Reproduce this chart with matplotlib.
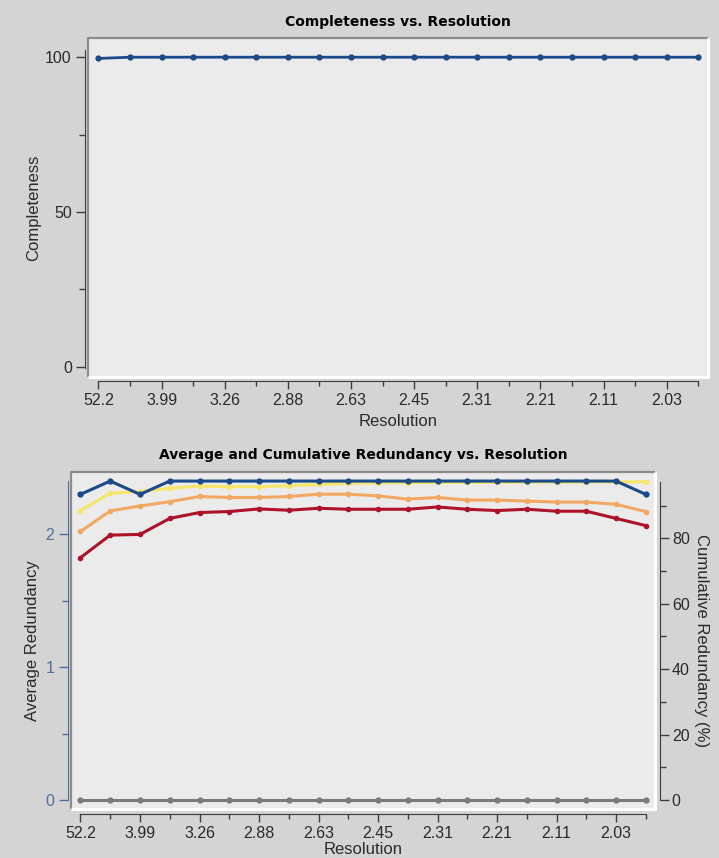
import matplotlib
matplotlib.use("Agg")
import matplotlib.pyplot as plt
from matplotlib.ticker import FixedLocator, NullFormatter

plt.rcParams["font.family"] = ["Liberation Sans", "DejaVu Sans"]

# resolution bin labels (every second bin is labelled)
res_labels = ["52.2", "3.99", "3.26", "2.88", "2.63", "2.45", "2.31", "2.21", "2.11", "2.03"]
n_bins = 20

completeness = [99.6] + [100.0] * 19

avg_redundancy = [2.3, 2.4, 2.3] + [2.4] * 16 + [2.3]
zero_series = [0.0] * 20
cum_yellow = [88.5, 93.8, 94.3, 95.3, 96.0, 95.8, 95.8, 96.1, 96.5, 96.8,
              97.0, 97.0, 97.1, 97.1, 97.1, 97.2, 97.2, 97.2, 97.3, 97.3]
cum_orange = [82.1, 88.4, 89.9, 91.2, 92.8, 92.5, 92.5, 92.8, 93.5, 93.5,
              93.0, 92.0, 92.5, 91.7, 91.7, 91.4, 91.1, 91.1, 90.4, 88.2]
cum_red = [74.1, 81.0, 81.2, 86.1, 87.9, 88.2, 89.0, 88.6, 89.2, 88.9,
           88.9, 88.9, 89.6, 88.9, 88.5, 88.9, 88.3, 88.3, 86.1, 83.9]

FIG_BG = "#d4d4d4"
PLOT_BG = "#ebebeb"
AX_COL = "#3c3c3c"
TXT = "#2a2a2a"
LEFT_BLUE = "#4f6f9f"
BLUE = "#1b4a8a"
YELLOW = "#f5e66a"
ORANGE = "#f2a862"
RED = "#ad1228"
GRAY = "#7a7a7a"

TICK_FS = 11.5
LABEL_FS = 12

xs = list(range(n_bins))


def bevel(ax):
    kw = dict(transform=ax.transAxes, clip_on=False, zorder=0.5)
    ax.plot([0, 0, 1], [0, 1, 1], color="#8c8c8c", lw=1.6, solid_capstyle="butt", **kw)
    ax.plot([0, 1, 1], [0, 0, 1], color="white", lw=2.2, solid_capstyle="butt", **kw)


def style_xaxis(ax, labelpad=0):
    ax.set_xlim(-0.33, 19.31)
    ax.xaxis.set_major_locator(FixedLocator(xs[::2]))
    ax.xaxis.set_minor_locator(FixedLocator(xs[1::2]))
    ax.set_xticklabels(res_labels)
    ax.xaxis.set_minor_formatter(NullFormatter())
    ax.spines["bottom"].set_visible(True)
    ax.spines["bottom"].set_color(AX_COL)
    ax.spines["bottom"].set_bounds(0, n_bins - 1)
    ax.tick_params(axis="x", which="major", length=5.5, width=1, color=AX_COL,
                   labelsize=TICK_FS, labelcolor=TXT, pad=3)
    ax.tick_params(axis="x", which="minor", length=3.5, width=1, color=AX_COL)
    ax.set_xlabel("Resolution", fontsize=LABEL_FS, color=TXT, labelpad=labelpad)


fig = plt.figure(figsize=(7.19, 8.58), dpi=100, facecolor=FIG_BG)

# --- top panel: completeness ---
ax1 = fig.add_axes([0.1224, 0.5606, 0.8623, 0.3951], facecolor=PLOT_BG)
for s in ax1.spines.values():
    s.set_visible(False)
bevel(ax1)
ax1.plot(xs, completeness, color=BLUE, lw=2.0, marker="o", ms=3.5, zorder=3)
ax1.set_ylim(-3.3, 106.2)
ax1.set_yticks([0, 50, 100])
ax1.yaxis.set_minor_locator(FixedLocator([25, 75]))
ax1.spines["left"].set_visible(True)
ax1.spines["left"].set_position(("outward", 2.2))
ax1.spines["left"].set_bounds(-0.4, 102.4)
ax1.spines["left"].set_color(AX_COL)
ax1.spines["bottom"].set_position(("outward", 3))
ax1.tick_params(axis="y", which="major", length=6.5, width=1, color=AX_COL,
                labelsize=TICK_FS, labelcolor=TXT, pad=3)
ax1.tick_params(axis="y", which="minor", length=4, width=1, color=AX_COL)
ax1.set_ylabel("Completeness", fontsize=LABEL_FS, color=TXT, labelpad=3)
style_xaxis(ax1, labelpad=4)
ax1.set_title("Completeness vs. Resolution", fontsize=10, fontweight="bold",
              family="DejaVu Sans", pad=9)

# --- bottom panel: redundancy ---
ax2 = fig.add_axes([0.0983, 0.0568, 0.8127, 0.3935])
ax3 = ax2.twinx()
ax2.set_zorder(ax3.get_zorder() + 1)
ax2.patch.set_visible(False)
ax3.patch.set_visible(True)
ax3.set_facecolor(PLOT_BG)
for a in (ax2, ax3):
    for s in a.spines.values():
        s.set_visible(False)
bevel(ax3)

ax3.plot(xs, cum_yellow, color=YELLOW, lw=2.2, marker="o", ms=3, zorder=2)
ax3.plot(xs, cum_orange, color=ORANGE, lw=2.2, marker="o", ms=3, zorder=2)
ax3.plot(xs, cum_red, color=RED, lw=2.2, marker="o", ms=3, zorder=2)
ax2.plot(xs, zero_series, color=GRAY, lw=2.2, marker="o", ms=3.5, zorder=3)
ax2.plot(xs, avg_redundancy, color=BLUE, lw=2.2, marker="o", ms=3.5, zorder=3)

ax2.set_ylim(-0.07, 2.471)
ax2.set_yticks([0, 1, 2])
ax2.yaxis.set_minor_locator(FixedLocator([0.5, 1.5]))
ax2.spines["left"].set_visible(True)
ax2.spines["left"].set_position(("outward", 2.2))
ax2.spines["left"].set_bounds(0, 2.4)
ax2.spines["left"].set_color(LEFT_BLUE)
ax2.spines["bottom"].set_position(("outward", 3.4))
ax2.tick_params(axis="y", which="major", length=6.5, width=1, color=LEFT_BLUE,
                labelsize=TICK_FS, labelcolor=LEFT_BLUE, pad=3)
ax2.tick_params(axis="y", which="minor", length=4, width=1, color=LEFT_BLUE)
ax2.set_ylabel("Average Redundancy", fontsize=LABEL_FS, color=TXT, labelpad=4)
style_xaxis(ax2, labelpad=1)
ax2.set_title("Average and Cumulative Redundancy vs. Resolution", fontsize=10,
              fontweight="bold", family="DejaVu Sans", pad=9)

ax3.set_ylim(-2.84, 100.4)
ax3.set_yticks([0, 20, 40, 60, 80])
ax3.yaxis.set_minor_locator(FixedLocator([10, 30, 50, 70, 90]))
ax3.spines["right"].set_visible(True)
ax3.spines["right"].set_position(("outward", 3.6))
ax3.spines["right"].set_bounds(0, 97.3)
ax3.spines["right"].set_color(AX_COL)
ax3.tick_params(axis="y", which="major", length=6.5, width=1, color=AX_COL,
                labelsize=TICK_FS, labelcolor=TXT, pad=2)
ax3.tick_params(axis="y", which="minor", length=4, width=1, color=AX_COL)
ax3.set_ylabel("Cumulative Redundancy (%)", fontsize=LABEL_FS, color=TXT,
               rotation=270, labelpad=14)

fig.savefig("out.png", dpi=100, facecolor=FIG_BG)
